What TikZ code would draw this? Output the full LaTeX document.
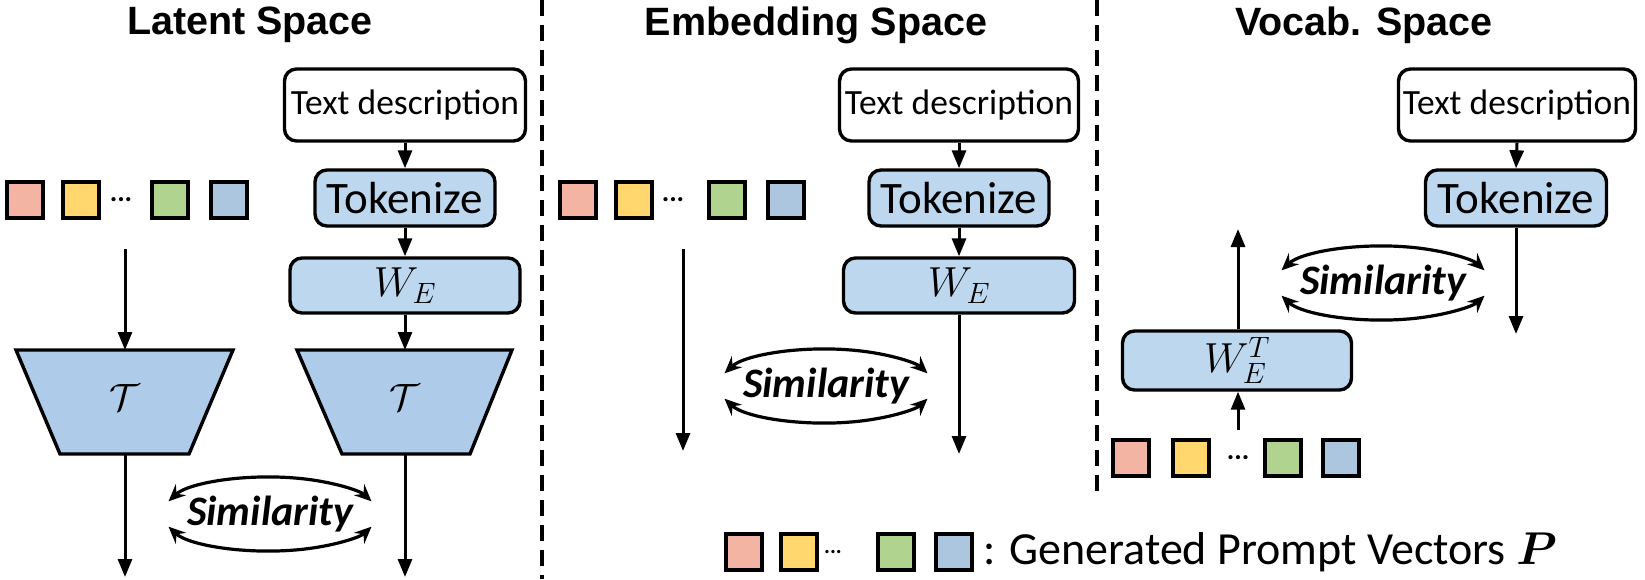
\RequirePackage{fix-cm}
\documentclass[tikz,border=0pt]{standalone}
\usepackage{fontspec}
\usepackage{bm}
\setmainfont{Carlito}
\newfontfamily\titlefont{Liberation Sans}
\usetikzlibrary{arrows.meta,shapes.geometric}
\definecolor{cpink}{HTML}{F4B4A4}
\definecolor{cyellow}{HTML}{FFD76E}
\definecolor{cgreen}{HTML}{B0D48F}
\definecolor{cblue}{HTML}{ADC6E0}
\definecolor{boxblue}{HTML}{BDD7EE}
\definecolor{trapblue}{HTML}{AECBEA}
\tikzset{
  sq/.style={draw, line width=4.2pt, minimum size=36pt, inner sep=0pt},
  dotsnode/.style={font=\fontsize{28}{28}\selectfont\bfseries, inner sep=0pt},
  descbox/.style={draw, line width=3.4pt, rounded corners=12pt, fill=white, minimum height=72pt, inner sep=0pt, font=\fontsize{35.5}{40}\selectfont},
  bluebox/.style={draw, line width=3.4pt, rounded corners=12pt, fill=boxblue, minimum height=56pt, inner sep=0pt, font=\fontsize{45}{48}\selectfont},
  webox/.style={draw, line width=3.4pt, rounded corners=12pt, fill=boxblue, minimum height=55pt, inner sep=0pt, font=\fontsize{42}{44}\selectfont},
  trap/.style={draw, line width=3.4pt, fill=trapblue},
  flow/.style={line width=3pt, -{Triangle[length=18pt,width=14pt]}},
  simarr/.style={line width=3.2pt, {Stealth[length=17pt,width=15pt,inset=6pt]}-{Stealth[length=17pt,width=15pt,inset=6pt]}},
  simtext/.style={font=\fontsize{42}{44}\selectfont\bfseries\itshape, inner sep=0pt},
  title/.style={font=\titlefont\fontsize{39.5}{44}\selectfont\bfseries, inner sep=0pt},
  sep/.style={line width=3.4pt, dash pattern=on 16pt off 9pt}
}
\begin{document}
\begin{tikzpicture}[x=1pt,y=-1pt]
\useasboundingbox (0,0) rectangle (1645,579);

% separators
\coordinate (s1a) at (542,0); \coordinate (s1b) at (542,579);
\coordinate (s2a) at (1097,0); \coordinate (s2b) at (1097,493);
\draw[sep] (s1a) -- (s1b);
\draw[sep] (s2a) -- (s2b);

% titles
\node[title] (t1) at (250,25) {Latent Space};
\node[title] (t2) at (816,25) {Embedding Space};
\node[title] (t3) at (1364,25) {Vocab. Space};

% ===== Latent space =====
\node[sq, fill=cpink]   (l1) at (25,200) {};
\node[sq, fill=cyellow] (l2) at (81,200) {};
\node[dotsnode]         (ld) at (121,200) {...};
\node[sq, fill=cgreen]  (l3) at (170,200) {};
\node[sq, fill=cblue]   (l4) at (229,200) {};

\node[descbox, minimum width=241pt] (ltd) at (405,105) {Text description};
\node[bluebox, minimum width=180pt] (ltk) at (405,198) {Tokenize};
\node[webox, minimum width=230pt] (lwe) at (405,285.5) {$W_E$};

\draw[trap] (16,350) -- (233,350) -- (189,454) -- (60,454) -- cycle;
\node[font=\fontsize{38}{40}\selectfont] (tl) at (125,398) {$\mathcal{T}$};
\coordinate (tlT) at (125,350); \coordinate (tlB) at (125,454);
\draw[trap] (297,350) -- (512,350) -- (470,454) -- (342,454) -- cycle;
\node[font=\fontsize{38}{40}\selectfont] (tr) at (405,398) {$\mathcal{T}$};
\coordinate (trT) at (405,350); \coordinate (trB) at (405,454);

\coordinate (la0) at (125,249);
\coordinate (lend1) at (125,577);
\coordinate (lend2) at (405,577);
\draw[flow] (la0) -- (tlT);
\draw[flow] (ltd.south) -- (ltk.north);
\draw[flow] (ltk.south) -- (lwe.north);
\draw[flow] (lwe.south) -- (trT);
\draw[flow] (tlB) -- (lend1);
\draw[flow] (trB) -- (lend2);

\coordinate (lsim) at (270,514);
\node[simtext] (lst) at (lsim) {Similarity};
\draw[simarr] ([shift={(-160:108 and 37)}]lsim) arc[start angle=-160, end angle=-20, x radius=108, y radius=37];
\draw[simarr] ([shift={(160:108 and 37)}]lsim) arc[start angle=160, end angle=20, x radius=108, y radius=37];

% ===== Embedding space =====
\node[sq, fill=cpink]   (e1) at (578,200) {};
\node[sq, fill=cyellow] (e2) at (634,200) {};
\node[dotsnode]         (ed) at (673,200) {...};
\node[sq, fill=cgreen]  (e3) at (727,200) {};
\node[sq, fill=cblue]   (e4) at (786,200) {};

\node[descbox, minimum width=239pt] (etd) at (959,105) {Text description};
\node[bluebox, minimum width=180pt] (etk) at (959,198) {Tokenize};
\node[webox, minimum width=231pt] (ewe) at (959,285.5) {$W_E$};

\coordinate (ea0) at (683,249); \coordinate (ea1) at (683,451);
\coordinate (eb1) at (959,454);
\draw[flow] (ea0) -- (ea1);
\draw[flow] (etd.south) -- (etk.north);
\draw[flow] (etk.south) -- (ewe.north);
\draw[flow] (ewe.south) -- (eb1);

\coordinate (esim) at (826,386);
\node[simtext] (est) at (esim) {Similarity};
\draw[simarr] ([shift={(-160:108 and 37)}]esim) arc[start angle=-160, end angle=-20, x radius=108, y radius=37];
\draw[simarr] ([shift={(160:108 and 37)}]esim) arc[start angle=160, end angle=20, x radius=108, y radius=37];

% ===== Vocab space =====
\node[descbox, minimum width=237pt] (vtd) at (1517,105) {Text description};
\node[bluebox, minimum width=181pt] (vtk) at (1516,198) {Tokenize};
\coordinate (vb1) at (1516,334);
\draw[flow] (vtd.south) -- (vtk.north);
\draw[flow] (vtk.south) -- (vb1);

\node[webox, minimum width=229pt, minimum height=59pt] (vwt) at (1237,360.5) {$W_E^T$};
\coordinate (vu1) at (1238,229);
\draw[flow] (vwt.north -| vu1) -- (vu1);

\node[sq, fill=cpink]   (v1) at (1131,458) {};
\node[sq, fill=cyellow] (v2) at (1191,458) {};
\node[dotsnode]         (vd) at (1238,458) {...};
\node[sq, fill=cgreen]  (v3) at (1283,458) {};
\node[sq, fill=cblue]   (v4) at (1341,458) {};
\coordinate (vu0) at (1238,430);
\draw[flow] (vu0) -- (vwt.south -| vu0);

\coordinate (vsim) at (1383,283);
\node[simtext] (vst) at (vsim) {Similarity};
\draw[simarr] ([shift={(-160:108 and 37)}]vsim) arc[start angle=-160, end angle=-20, x radius=108, y radius=37];
\draw[simarr] ([shift={(160:108 and 37)}]vsim) arc[start angle=160, end angle=20, x radius=108, y radius=37];

% ===== Legend =====
\node[sq, fill=cpink]   (g1) at (744,552) {};
\node[sq, fill=cyellow] (g2) at (799,552) {};
\node[dotsnode, font=\fontsize{22}{22}\selectfont\bfseries] (gd) at (833,552) {...};
\node[sq, fill=cgreen]  (g3) at (896,552) {};
\node[sq, fill=cblue]   (g4) at (954,552) {};
\node[anchor=west, inner sep=0pt, font=\fontsize{46}{48}\selectfont] (gt) at (983,552) {: Generated Prompt Vectors $\bm{P}$};

\end{tikzpicture}
\end{document}
